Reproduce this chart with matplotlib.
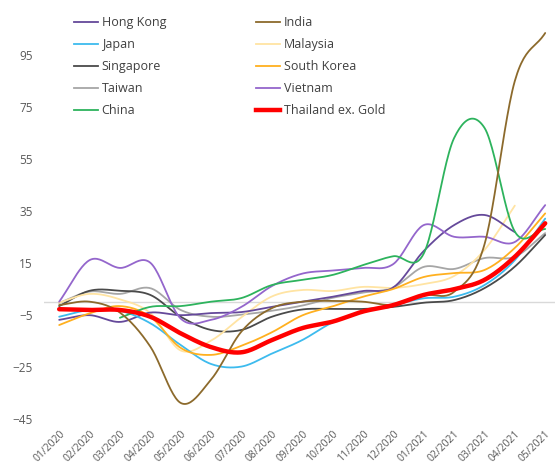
import numpy as np
import matplotlib
matplotlib.use("Agg")
import matplotlib.pyplot as plt
from matplotlib.lines import Line2D

nan = np.nan

# monthly values
months = ['01/2020', '02/2020', '03/2020', '04/2020', '05/2020', '06/2020',
          '07/2020', '08/2020', '09/2020', '10/2020', '11/2020', '12/2020',
          '01/2021', '02/2021', '03/2021', '04/2021', '05/2021']

hong_kong = [-7, -5.2, -7.8, -4.2, -5.2, -4.4, -4, -2, 0, 1.9, 4.1, 5.5,
             19.5, 29.5, 33.4, 26.8, nan]
japan = [-5.8, -3.2, -3.5, -8.3, -16.7, -24, -25, -20, -14.8, -8, -3.9, -1.3,
         1.3, 1.9, 6.4, 16, 32]
singapore = [-1.7, 4.2, 4.2, 2.6, -5.8, -10.9, -10.9, -5.8, -3, -2.8, -2.8, -2,
             -0.4, 0.6, 5.2, 13.5, 25.7]
taiwan = [-0.5, 3.9, 3, 5.2, -3.2, -5.8, -5, -3.5, -1.5, 1.5, 3.5, 5.5,
          13.4, 12.6, 16.8, 17.3, 26.4]
china = [nan, nan, -6.2, -2, -1.7, 0, 1.4, 6.4, 8.4, 10.3, 14.1, 17.5,
         18.5, 63, 67, 27, 28]
india = [-1.3, 0, -4.2, -17.3, -39, -30, -11.5, -2.5, 0, 0.3, 0, -1.2,
         2.5, 3.8, 22, 85, 103.5]
malaysia = [-0.4, 3, 0.9, -4.4, -18.8, -15, -6, 2, 4.5, 4.1, 5.7, 5.3,
            6.8, 9.9, 19.9, 37, nan]
south_korea = [-9, -4.5, -1.7, -5.8, -17.8, -20.5, -17, -11.8, -5.3, -1.8, 1.9, 4.9,
               9.5, 11, 12.2, 20.7, 34]
vietnam = [0, 16, 13, 15, -6.5, -7, -2, 6, 10.8, 12, 13, 14.5,
           29.5, 25, 25, 23, 37.2]
thailand = [-2.9, -3.2, -3.2, -5.8, -12.2, -17.5, -19.5, -14.8, -10.2, -7.7, -3.8, -1.3,
            2.6, 4.8, 8.4, 17.3, 30.2]

series = [
    ('Hong Kong', hong_kong, '#65499A', 1.3),
    ('Japan', japan, '#3DBBEE', 1.3),
    ('Singapore', singapore, '#4A4A4A', 1.3),
    ('Taiwan', taiwan, '#A6A6A6', 1.3),
    ('China', china, '#2DB35D', 1.3),
    ('India', india, '#8C6A2C', 1.3),
    ('Malaysia', malaysia, '#FFE4A3', 1.3),
    ('South Korea', south_korea, '#FFB01F', 1.3),
    ('Vietnam', vietnam, '#9466CC', 1.3),
    ('Thailand ex. Gold', thailand, '#FF0000', 3.2),
]

# draw order: thailand on top
draw_order = ['Taiwan', 'Singapore', 'Malaysia', 'Hong Kong', 'Japan', 'South Korea',
              'Vietnam', 'China', 'India', 'Thailand ex. Gold']


def smooth(xs, ys, steps=24):
    # Catmull-Rom curve through the points (like Excel's smoothed line)
    xs = np.asarray(xs, float)
    ys = np.asarray(ys, float)
    px = np.concatenate([[2 * xs[0] - xs[1]], xs, [2 * xs[-1] - xs[-2]]])
    py = np.concatenate([[2 * ys[0] - ys[1]], ys, [2 * ys[-1] - ys[-2]]])
    out_x, out_y = [], []
    t = np.linspace(0, 1, steps, endpoint=False)
    for i in range(1, len(px) - 2):
        for p, out in ((px, out_x), (py, out_y)):
            p0, p1, p2, p3 = p[i - 1], p[i], p[i + 1], p[i + 2]
            out.extend(0.5 * (2 * p1 + (-p0 + p2) * t
                              + (2 * p0 - 5 * p1 + 4 * p2 - p3) * t ** 2
                              + (-p0 + 3 * p1 - 3 * p2 + p3) * t ** 3))
    out_x.append(xs[-1])
    out_y.append(ys[-1])
    return np.array(out_x), np.array(out_y)


plt.rcParams['font.family'] = ['Open Sans', 'DejaVu Sans']

fig = plt.figure(figsize=(5.55, 4.66), dpi=100)
ax = fig.add_axes([44 / 555, 47.5 / 466, 17 * 30.375 / 555, 389.4 / 466])

ax.axhline(0, color='#D9D9D9', linewidth=1, zorder=1)

lookup = {s[0]: s for s in series}
for i, name in enumerate(draw_order):
    _, vals, color, lw = lookup[name]
    vals = np.asarray(vals, float)
    x = np.arange(len(vals))
    ok = ~np.isnan(vals)
    sx, sy = smooth(x[ok], vals[ok])
    ax.plot(sx, sy, color=color, linewidth=lw, solid_capstyle='round', zorder=2 + i)

ax.set_xlim(-0.5, 16.5)
ax.set_ylim(-45, 105)
ax.set_yticks(np.arange(-45, 96, 20))
ax.set_xticks(np.arange(len(months)))
ax.set_xticklabels(months, rotation=45, ha='right', va='top', rotation_mode='anchor')

for s in ax.spines.values():
    s.set_visible(False)
ax.tick_params(axis='both', length=0, colors='#595959')
ax.tick_params(axis='y', pad=8, labelsize=8.5)
ax.tick_params(axis='x', pad=7, labelsize=7.5)

handles = [Line2D([], [], color=c, linewidth=lw) for _, _, c, lw in series]
labels = [n for n, _, _, _ in series]
fig.legend(handles, labels, ncol=2, frameon=False, loc='upper left',
           bbox_to_anchor=(68 / 555, 1 - 10 / 466), fontsize=9,
           handlelength=1.9, handletextpad=0.3, columnspacing=7.2,
           labelspacing=0.72, borderpad=0, labelcolor='#404040')

fig.savefig('out.png', dpi=100)
